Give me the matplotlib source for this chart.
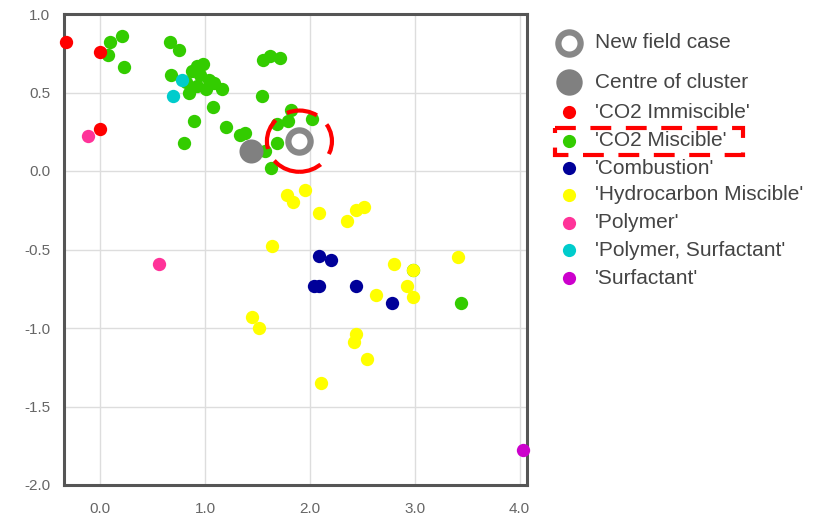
import matplotlib
matplotlib.use('Agg')
import matplotlib.pyplot as plt
from matplotlib.patches import Ellipse, Rectangle

plt.rcParams['font.family'] = ['Liberation Sans', 'DejaVu Sans']

# points per category
co2_immisc_x = [-0.33, 0.00, 0.00]
co2_immisc_y = [0.82, 0.76, 0.27]

co2_misc_x = [0.09, 0.21, 0.07, 0.23, 0.67, 0.75, 0.68, 0.92, 0.98, 0.88, 0.95, 0.92,
              0.85, 0.82, 1.04, 1.09, 1.16, 1.01, 1.08, 0.89, 0.80, 1.20, 1.33, 1.38,
              1.54, 1.55, 1.62, 1.71, 1.82, 2.02, 1.79, 1.69, 1.69, 1.63, 1.57, 3.44, 2.98]
co2_misc_y = [0.82, 0.86, 0.74, 0.66, 0.82, 0.77, 0.61, 0.67, 0.68, 0.64, 0.61, 0.54,
              0.50, 0.57, 0.58, 0.56, 0.52, 0.52, 0.41, 0.32, 0.18, 0.28, 0.23, 0.24,
              0.48, 0.71, 0.73, 0.72, 0.39, 0.33, 0.32, 0.30, 0.18, 0.02, 0.13, -0.84, -0.63]

combustion_x = [2.09, 2.20, 2.04, 2.09, 2.44, 2.78]
combustion_y = [-0.54, -0.57, -0.73, -0.73, -0.73, -0.84]

hc_misc_x = [1.78, 1.84, 1.95, 2.09, 2.35, 2.44, 2.52, 1.64, 2.80, 2.98, 3.41, 2.63,
             2.93, 2.98, 1.45, 1.51, 2.44, 2.42, 2.54, 2.11]
hc_misc_y = [-0.15, -0.20, -0.12, -0.27, -0.32, -0.25, -0.23, -0.48, -0.59, -0.63, -0.55, -0.79,
             -0.73, -0.80, -0.93, -1.00, -1.04, -1.09, -1.20, -1.35]

polymer_x = [-0.12, 0.56]
polymer_y = [0.22, -0.59]

poly_surf_x = [0.78, 0.69]
poly_surf_y = [0.58, 0.48]

surfactant_x = [4.03]
surfactant_y = [-1.78]

centre_x, centre_y = 1.44, 0.125
new_case_x, new_case_y = 1.90, 0.19

categories = ["'CO2 Immiscible'", "'CO2 Miscible'", "'Combustion'", "'Hydrocarbon Miscible'",
              "'Polymer'", "'Polymer, Surfactant'", "'Surfactant'"]
cat_colors = ['#ff0000', '#33cc00', '#000099', '#ffff00', '#ff3399', '#00cccc', '#cc00cc']
cat_x = [co2_immisc_x, co2_misc_x, combustion_x, hc_misc_x, polymer_x, poly_surf_x, surfactant_x]
cat_y = [co2_immisc_y, co2_misc_y, combustion_y, hc_misc_y, polymer_y, poly_surf_y, surfactant_y]

xticks = [0, 1, 2, 3, 4]
yticks = [-2.0, -1.5, -1.0, -0.5, 0.0, 0.5, 1.0]

W, H = 813, 515
fig = plt.figure(figsize=(W / 100, H / 100), dpi=100)
ax = fig.add_axes([64 / W, 1 - 485 / H, (527 - 64) / W, (485 - 14) / H])

# draw order: green under the others
order = [1, 0, 2, 3, 4, 5, 6]
for i in order:
    ax.scatter(cat_x[i], cat_y[i], s=92, color=cat_colors[i], linewidths=0, zorder=3,
               clip_on=False)

ax.scatter([centre_x], [centre_y], s=300, color='#808080', linewidths=0, zorder=4)
ax.plot([new_case_x], [new_case_y], 'o', ms=16, mfc='white', mec='#888888', mew=4.5, zorder=5)

# red dashed highlight around new case
ax.add_patch(Ellipse((new_case_x, new_case_y), 0.62, 0.39, fill=False, edgecolor='#ff0000',
                     lw=3, linestyle=(2, (7.5, 3.2)), zorder=6))

ax.set_xlim(-0.345, 4.07)
ax.set_ylim(-2.0, 1.0)
ax.set_xticks(xticks)
ax.set_xticklabels(['%.1f' % v for v in xticks])
ax.set_yticks(yticks)
ax.set_yticklabels(['%.1f' % v for v in yticks])
ax.tick_params(length=0, labelsize=11, labelcolor='#666666')
ax.tick_params(axis='x', pad=12)
ax.tick_params(axis='y', pad=10)
ax.grid(color='#dddddd', lw=1)
ax.set_axisbelow(True)
for sp in ax.spines.values():
    sp.set_color('#555555')
    sp.set_linewidth(2.2)
    sp.set_zorder(2)

# legend drawn in pixel coordinates
lax = fig.add_axes([540 / W, 0, (W - 540) / W, 1])
lax.set_xlim(540, W)
lax.set_ylim(H, 0)
lax.axis('off')

mx, tx = 569, 595
lax.plot([mx], [43], 'o', ms=16, mfc='white', mec='#888888', mew=4.5)
lax.text(tx, 43, 'New field case', fontsize=15, color='#444444', va='center')
lax.plot([mx], [82], 'o', ms=19, color='#808080', mew=0)
lax.text(tx, 82, 'Centre of cluster', fontsize=15, color='#444444', va='center')
row_y = [112, 141, 168, 195, 223, 250, 278]
for lab, col, yy in zip(categories, cat_colors, row_y):
    lax.plot([mx], [yy], 'o', ms=9.5, color=col, mew=0)
    lax.text(tx, yy, lab, fontsize=15, color='#444444', va='center')

lax.add_patch(Rectangle((555, 128), 188, 27, fill=False, edgecolor='#ff0000', lw=3,
                        linestyle=(0, (5, 3.5))))

fig.savefig('out.png', dpi=100)
